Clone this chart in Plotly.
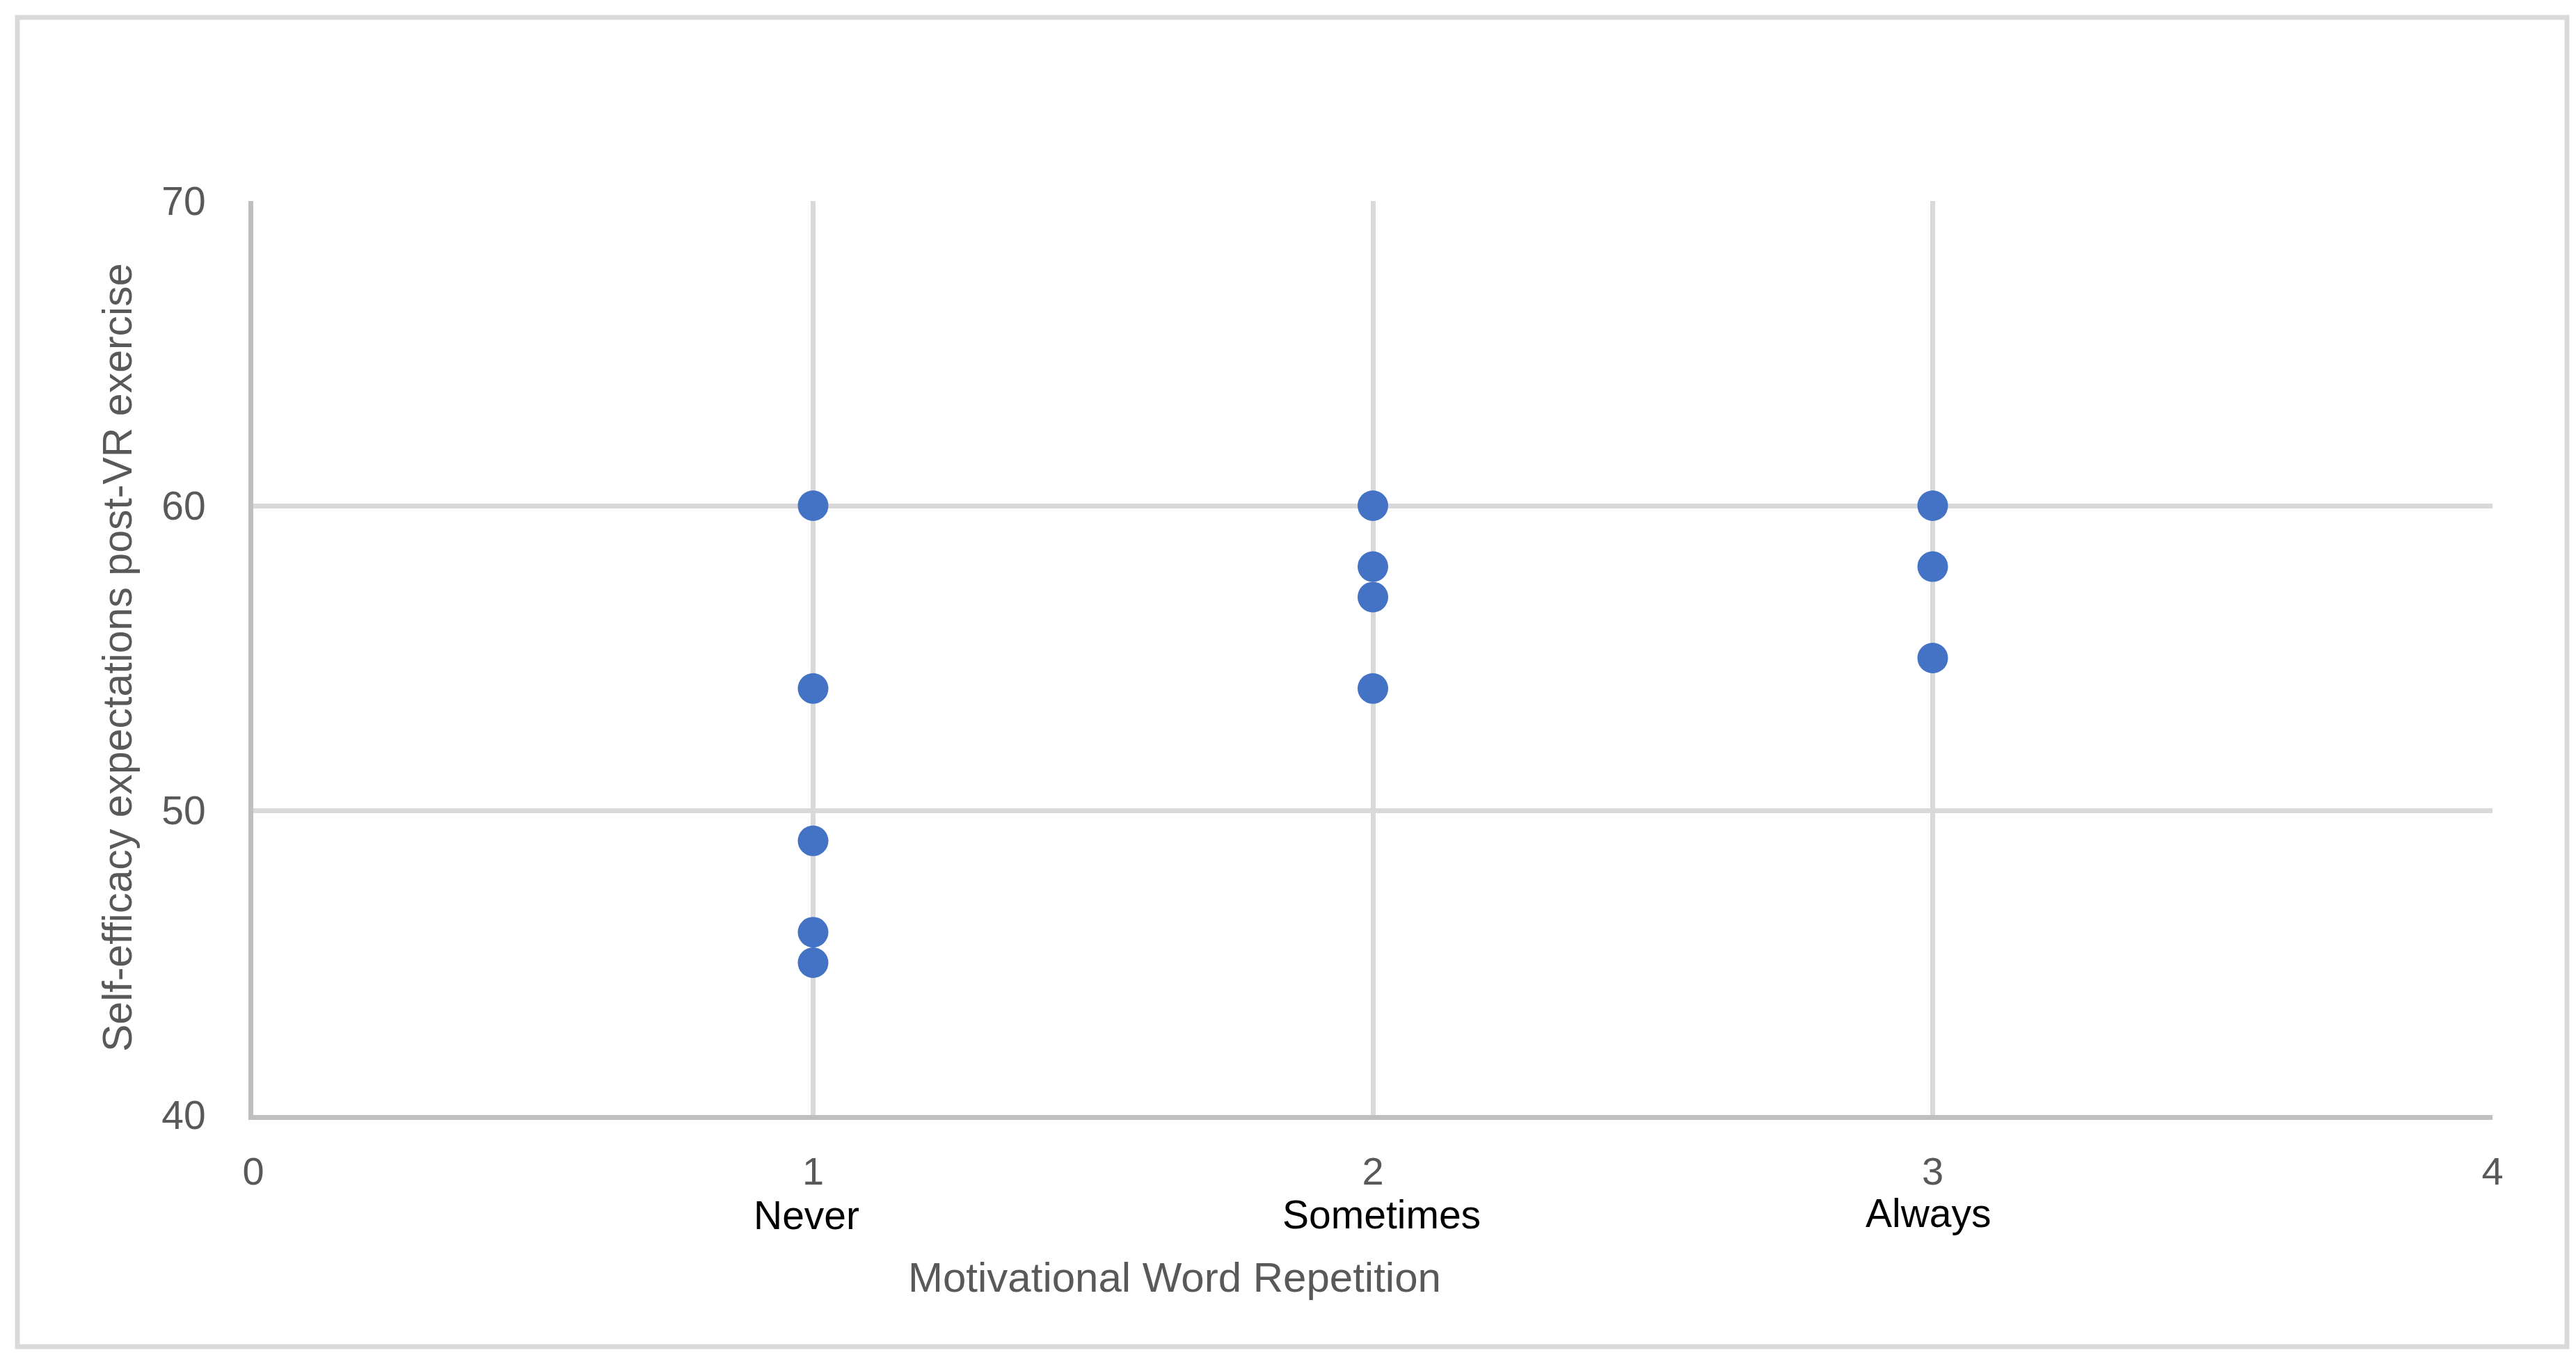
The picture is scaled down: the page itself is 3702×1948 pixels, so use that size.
import plotly.graph_objects as go

# Data
categories = ["Never", "Sometimes", "Always"]
category_x = [1, 2, 3]
never_values = [60, 54, 49, 46, 45]
sometimes_values = [60, 58, 57, 54]
always_values = [60, 58, 55]
group_values = [never_values, sometimes_values, always_values]

x_ticks = [0, 1, 2, 3, 4]
y_ticks = [40, 50, 60, 70]

x_title = "Motivational Word Repetition"
y_title = "Self-efficacy expectations post-VR exercise"

xs, ys = [], []
for cx, vals in zip(category_x, group_values):
    for v in vals:
        xs.append(cx)
        ys.append(v)

FONT = "Liberation Sans"
GREY_TXT = "#595959"

fig = go.Figure()
fig.add_trace(go.Scatter(
    x=xs, y=ys, mode="markers",
    marker=dict(size=44, color="#4472C4", line=dict(width=0)),
    showlegend=False, hoverinfo="x+y",
))

W, H = 3702, 1948
L, R, T, B = 356, 128, 281, 353
pw, ph = W - L - R, H - T - B

def px_to_paper_x(px):
    return (px - L) / pw

def px_to_paper_y(py):
    return (H - B - py) / ph

fig.update_layout(
    width=W, height=H,
    margin=dict(l=L, r=R, t=T, b=B, autoexpand=False),
    paper_bgcolor="white", plot_bgcolor="white",
    font=dict(family=FONT, color=GREY_TXT),
    xaxis=dict(
        range=[0, 4], tickvals=x_ticks, ticktext=[str(t) for t in x_ticks],
        showgrid=True, gridcolor="#D9D9D9", gridwidth=7,
        showline=True, linecolor="#BFBFBF", linewidth=7,
        zeroline=False, ticks="", ticklabelstandoff=26,
        tickfont=dict(family=FONT, size=56, color=GREY_TXT),
        mirror=False, automargin=False, fixedrange=True,
    ),
    yaxis=dict(
        range=[40, 70], tickvals=y_ticks,
        showgrid=True, gridcolor="#D9D9D9", gridwidth=7,
        showline=True, linecolor="#BFBFBF", linewidth=7,
        zeroline=False, ticks="", ticklabelstandoff=50,
        tickfont=dict(family=FONT, size=57, color=GREY_TXT),
        automargin=False, fixedrange=True,
    ),
)

# Category labels below the numeric ticks (slight offsets as in the reference)
label_y_px = [1739, 1738, 1736]
label_xshift = [-10, 12, -6]
for cat, cx, ly, xsft in zip(categories, category_x, label_y_px, label_xshift):
    fig.add_annotation(
        x=cx, xref="x", y=px_to_paper_y(ly), yref="paper", xshift=xsft,
        text=cat, showarrow=False, xanchor="center", yanchor="middle",
        font=dict(family=FONT, size=57, color="black"),
    )

# Axis titles
fig.add_annotation(
    x=px_to_paper_x(1680), xref="paper", y=px_to_paper_y(1828), yref="paper",
    text=x_title, showarrow=False, xanchor="center", yanchor="middle",
    font=dict(family=FONT, size=60, color=GREY_TXT),
)
fig.add_annotation(
    x=px_to_paper_x(161), xref="paper", y=px_to_paper_y(937), yref="paper",
    text=y_title, showarrow=False, textangle=-90, xanchor="center", yanchor="middle",
    font=dict(family=FONT, size=59, color=GREY_TXT),
)

# Chart area border
fig.add_shape(
    type="rect", xref="paper", yref="paper",
    x0=px_to_paper_x(17), x1=px_to_paper_x(3681),
    y0=px_to_paper_y(1928), y1=px_to_paper_y(17),
    line=dict(color="#D9D9D9", width=7), fillcolor="rgba(0,0,0,0)", layer="below",
)

fig.write_html("out.html")
